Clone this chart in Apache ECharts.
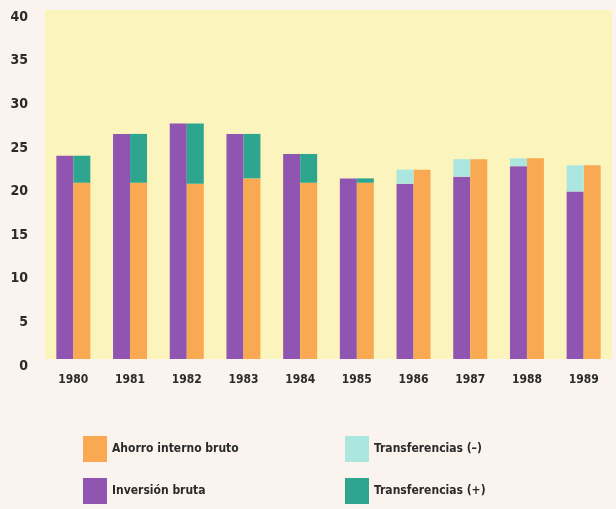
<!DOCTYPE html>
<html>
<head>
<meta charset="utf-8">
<script src="https://cdn.jsdelivr.net/npm/echarts@6/dist/echarts.min.js"></script>
<style>
  html, body { margin: 0; padding: 0; background: #fbf3ee; }
  #chart { width: 616px; height: 509px; }
</style>
</head>
<body>
<div id="chart"></div>
<script>
// años
var years = ['1980', '1981', '1982', '1983', '1984', '1985', '1986', '1987', '1988', '1989'];
// % del PIB
var inversion = [23.3, 25.8, 27.0, 25.8, 23.5, 20.7, 20.1, 20.9, 22.1, 19.2];
var ahorro = [20.2, 20.2, 20.1, 20.7, 20.2, 20.2, 21.7, 22.9, 23.0, 22.2];
var transfMenos = [0, 0, 0, 0, 0, 0, 1.6, 2.0, 0.9, 3.0];
var transfMas = [3.1, 5.6, 6.9, 5.1, 3.3, 0.5, 0, 0, 0, 0];
var yTicks = [0, 5, 10, 15, 20, 25, 30, 35, 40];

var font = "'DejaVu Sans Condensed', 'Liberation Sans Narrow', sans-serif";

var myChart = echarts.init(document.getElementById('chart'));
var option = {
  backgroundColor: '#fbf3ee',
  animation: false,
  grid: {
    left: 45,
    right: 4,
    top: 10,
    bottom: 150,
    show: true,
    backgroundColor: '#fcf4bd',
    borderWidth: 0
  },
  legend: [
    {
      orient: 'vertical',
      left: 78,
      top: 431,
      itemWidth: 24,
      itemHeight: 26,
      itemGap: 16,
      icon: 'rect',
      data: ['Ahorro interno bruto', 'Inversión bruta'],
      textStyle: { fontFamily: font, fontSize: 12, fontWeight: 'bold', color: '#2a2a2a' }
    },
    {
      orient: 'vertical',
      left: 340,
      top: 431,
      itemWidth: 24,
      itemHeight: 26,
      itemGap: 16,
      icon: 'rect',
      data: ['Transferencias (–)', 'Transferencias (+)'],
      textStyle: { fontFamily: font, fontSize: 12, fontWeight: 'bold', color: '#2a2a2a' }
    }
  ],
  xAxis: {
    type: 'category',
    data: years,
    axisLine: { show: false },
    axisTick: { show: false },
    axisLabel: {
      margin: 15,
      fontFamily: font,
      fontSize: 12,
      fontWeight: 'bold',
      color: '#2a2a2a'
    }
  },
  yAxis: {
    type: 'value',
    min: yTicks[0],
    max: yTicks[yTicks.length - 1],
    interval: 5,
    splitLine: { show: false },
    axisLine: { show: false },
    axisTick: { show: false },
    axisLabel: {
      margin: 17,
      verticalAlign: 'top',
      fontFamily: font,
      fontSize: 14,
      fontWeight: 'bold',
      color: '#2a2a2a'
    }
  },
  series: [
    {
      name: 'Inversión bruta',
      type: 'bar',
      stack: 'izq',
      barWidth: 17,
      barGap: '0%',
      itemStyle: { color: '#8f55b1' },
      data: inversion
    },
    {
      name: 'Ahorro interno bruto',
      type: 'bar',
      stack: 'der',
      barWidth: 17,
      barGap: '0%',
      itemStyle: { color: '#f8a951' },
      data: ahorro
    },
    {
      name: 'Transferencias (–)',
      type: 'bar',
      stack: 'izq',
      barWidth: 17,
      barGap: '0%',
      itemStyle: { color: '#abe6df' },
      data: transfMenos
    },
    {
      name: 'Transferencias (+)',
      type: 'bar',
      stack: 'der',
      barWidth: 17,
      barGap: '0%',
      itemStyle: { color: '#2ea58e' },
      data: transfMas
    }
  ]
};
myChart.setOption(option);
</script>
</body>
</html>
